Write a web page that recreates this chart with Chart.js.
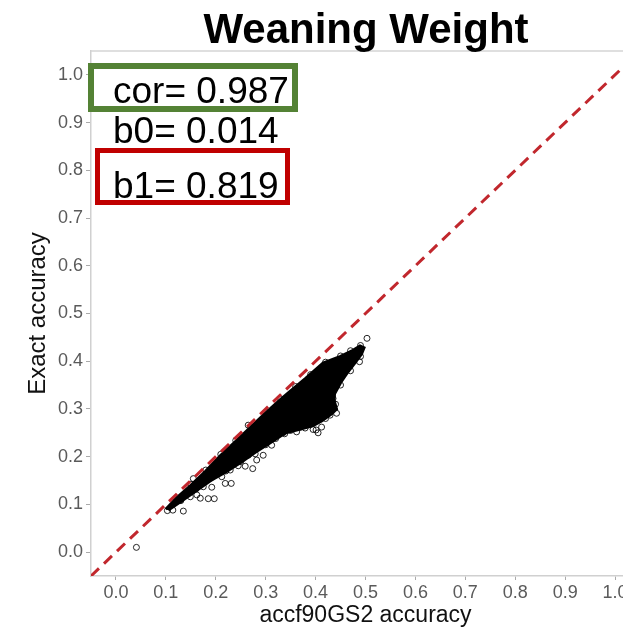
<!DOCTYPE html>
<html>
<head>
<meta charset="utf-8">
<script src="https://cdn.jsdelivr.net/npm/chart.js@4"></script>
<style>
  html, body { margin: 0; padding: 0; background: #fff; overflow: hidden; width: 623px; height: 630px; }
  canvas { display: block; }
</style>
</head>
<body>
<canvas id="chart" width="645" height="630"></canvas>
<script>
// Weaning Weight: exact vs accf90GS2 accuracy

const titleText = 'Weaning Weight';
const xTitle = 'accf90GS2 accuracy';
const yTitle = 'Exact accuracy';
const statLabels = ['cor= 0.987', 'b0= 0.014', 'b1= 0.819'];

const xTicks = [0.0, 0.1, 0.2, 0.3, 0.4, 0.5, 0.6, 0.7, 0.8, 0.9, 1.0];
const yTicks = [0.0, 0.1, 0.2, 0.3, 0.4, 0.5, 0.6, 0.7, 0.8, 0.9, 1.0];

// y = x reference line
const refX = [-0.05, 1.05];
const refY = [-0.05, 1.05];

// outline of the saturated (solid black) part of the cloud
// upper edge left -> right, then lower edge right -> left
const coreX = [0.100, 0.120, 0.150, 0.180, 0.210, 0.240, 0.270, 0.300, 0.330, 0.350, 0.380, 0.415, 0.450, 0.475, 0.489, 0.497,
               0.492, 0.480, 0.465, 0.450, 0.438, 0.437, 0.442, 0.432, 0.412, 0.395, 0.370, 0.340, 0.310, 0.280, 0.250, 0.220, 0.190, 0.160, 0.130, 0.105];
const coreY = [0.090, 0.112, 0.140, 0.170, 0.203, 0.232, 0.262, 0.292, 0.320, 0.338, 0.364, 0.396, 0.410, 0.423, 0.432, 0.428,
               0.415, 0.398, 0.378, 0.355, 0.332, 0.318, 0.300, 0.290, 0.275, 0.265, 0.258, 0.250, 0.230, 0.210, 0.188, 0.168, 0.150, 0.128, 0.106, 0.088];

// individual open circles (fringe of the cloud and outliers)
const pointX = [0.041, 0.503, 0.103, 0.114, 0.135, 0.129, 0.149, 0.162, 0.169, 0.185, 0.197, 0.192, 0.175, 0.162, 0.155,
                0.212, 0.219, 0.231, 0.209, 0.229, 0.245, 0.259, 0.274, 0.235, 0.255, 0.282, 0.279, 0.295, 0.265, 0.312,
                0.335, 0.338, 0.362, 0.379, 0.395, 0.405, 0.412, 0.401, 0.415, 0.429, 0.442, 0.435, 0.405, 0.488, 0.265,
                0.300, 0.320, 0.350, 0.370, 0.390, 0.420, 0.440, 0.450, 0.470, 0.490, 0.250, 0.220, 0.190, 0.160, 0.130,
                0.120, 0.150, 0.180, 0.210, 0.240, 0.270, 0.300, 0.330, 0.360, 0.390, 0.420, 0.450, 0.470, 0.490];
const pointY = [0.010, 0.448, 0.087, 0.088, 0.086, 0.109, 0.116, 0.120, 0.113, 0.112, 0.112, 0.136, 0.137, 0.144, 0.154,
                0.158, 0.144, 0.144, 0.170, 0.172, 0.181, 0.180, 0.175, 0.193, 0.200, 0.193, 0.206, 0.203, 0.203, 0.224,
                0.250, 0.248, 0.252, 0.260, 0.257, 0.250, 0.262, 0.256, 0.294, 0.287, 0.291, 0.322, 0.378, 0.399, 0.266,
                0.225, 0.238, 0.255, 0.262, 0.268, 0.280, 0.310, 0.350, 0.380, 0.410, 0.190, 0.170, 0.155, 0.132, 0.108,
                0.112, 0.142, 0.172, 0.205, 0.234, 0.263, 0.293, 0.321, 0.347, 0.372, 0.398, 0.411, 0.422, 0.433];

const FONT = '"Liberation Sans", Arial, Helvetica, sans-serif';
const toPts = (xs, ys) => xs.map((x, i) => ({x: x, y: ys[i]}));

// title, top border and the stats boxes
const overlay = {
  id: 'overlay',
  afterDraw(chart) {
    const {ctx, chartArea: a} = chart;
    ctx.save();
    ctx.strokeStyle = '#d4d4d4';
    ctx.lineWidth = 1.5;
    ctx.beginPath();
    ctx.moveTo(a.left, a.top);
    ctx.lineTo(a.right, a.top);
    ctx.stroke();

    ctx.fillStyle = '#000';
    ctx.font = 'bold 42px ' + FONT;
    ctx.textAlign = 'center';
    ctx.textBaseline = 'alphabetic';
    ctx.fillText(titleText, 366, 43);

    // green box round cor, red box round b1
    ctx.fillStyle = '#fff';
    ctx.fillRect(91, 66, 204, 43);
    ctx.fillRect(97.5, 150.5, 190, 52);
    ctx.lineWidth = 6;
    ctx.strokeStyle = '#548235';
    ctx.strokeRect(91, 66, 204, 43);
    ctx.lineWidth = 5;
    ctx.strokeStyle = '#c00000';
    ctx.strokeRect(97.5, 150.5, 190, 52);

    ctx.fillStyle = '#000';
    ctx.font = '37px ' + FONT;
    ctx.textAlign = 'left';
    ctx.fillText(statLabels[0], 113, 103);
    ctx.fillText(statLabels[1], 113, 143);
    ctx.fillText(statLabels[2], 113, 198);
    ctx.restore();
  }
};

const tickFont = {family: FONT, size: 18};

new Chart(document.getElementById('chart'), {
  type: 'scatter',
  data: {
    datasets: [
      {
        label: 'core',
        data: toPts(coreX, coreY),
        showLine: true,
        fill: 'shape',
        backgroundColor: '#000',
        borderColor: '#000',
        borderWidth: 3,
        pointRadius: 0,
        order: 3
      },
      {
        label: 'accuracy',
        data: toPts(pointX, pointY),
        pointRadius: 3,
        borderWidth: 1,
        borderColor: 'rgba(0,0,0,0.85)',
        backgroundColor: 'rgba(0,0,0,0)',
        order: 2
      },
      {
        label: 'y = x',
        data: toPts(refX, refY),
        showLine: true,
        borderColor: '#c1272d',
        borderWidth: 3,
        borderDash: [11, 7],
        pointRadius: 0,
        order: 1
      }
    ]
  },
  options: {
    responsive: false,
    animation: false,
    layout: { padding: { top: 51, right: 4, left: 0, bottom: 0 } },
    plugins: { legend: { display: false }, tooltip: { enabled: false } },
    scales: {
      x: {
        type: 'linear',
        min: -0.05,
        max: 1.05,
        afterBuildTicks: s => { s.ticks = xTicks.map(v => ({value: v})); },
        afterFit: s => { s.height = 54; },
        ticks: { font: tickFont, color: '#5a5a5a', padding: 2, maxRotation: 0, callback: v => v.toFixed(1) },
        grid: { drawOnChartArea: false, tickLength: 4, color: '#aaaaaa' },
        border: { color: '#d0d0d0', width: 1.5 },
        title: { display: true, text: xTitle, color: '#111', font: {family: FONT, size: 23}, padding: {top: 0, bottom: 1} }
      },
      y: {
        type: 'linear',
        min: -0.05,
        max: 1.05,
        afterBuildTicks: s => { s.ticks = yTicks.map(v => ({value: v})); },
        afterFit: s => { s.width = 91; },
        ticks: { font: tickFont, color: '#5a5a5a', padding: 3, callback: v => v.toFixed(1) },
        grid: { drawOnChartArea: false, tickLength: 5, color: '#aaaaaa' },
        border: { color: '#d0d0d0', width: 1.5 },
        title: { display: true, text: yTitle, color: '#111', font: {family: FONT, size: 24}, padding: {top: 24, bottom: 0} }
      }
    }
  },
  plugins: [overlay]
});
</script>
</body>
</html>
